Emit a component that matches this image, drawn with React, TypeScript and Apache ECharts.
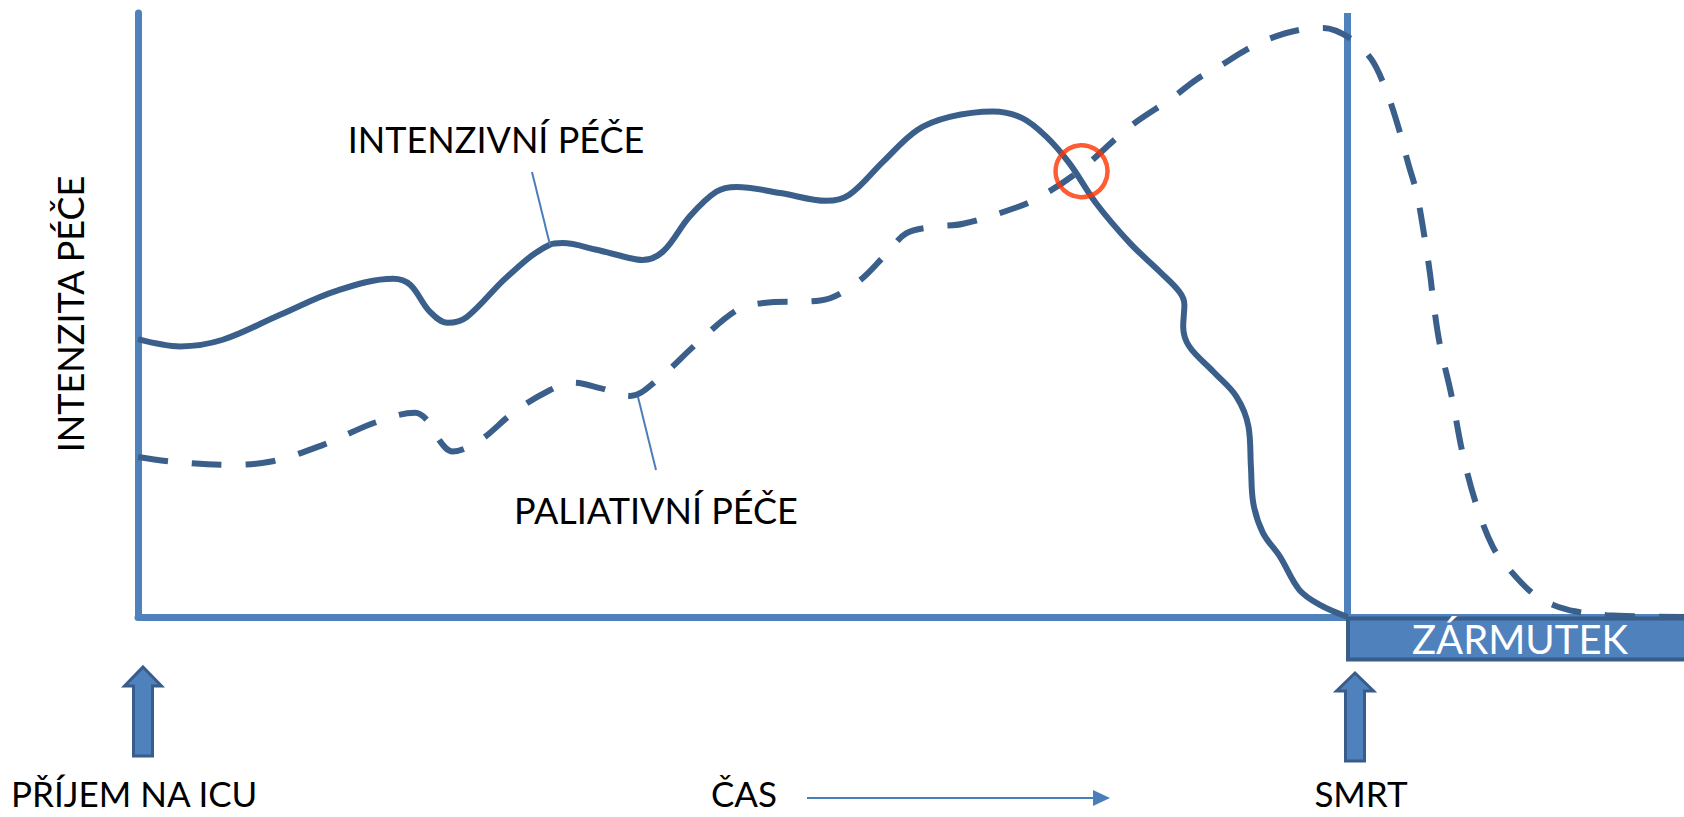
import React, { useEffect, useRef } from "react";
import * as echarts from "echarts";

// Time axis: 0 = admission to ICU, 100 = death; intensity 0..100
const intensiveCare: [number, number][] = [
  [0, 46.0], [3.5, 44.8], [7.0, 45.9], [11.7, 50.0], [16.4, 54.0], [21.1, 56.0],
  [22.5, 55.0], [24.1, 50.6], [25.6, 48.7], [27.2, 49.7], [30.5, 56.3], [34.0, 61.6],
  [35.1, 61.9], [37.9, 60.8], [40.7, 59.4], [41.7, 59.1], [43.4, 60.5], [45.6, 66.3],
  [47.8, 70.4], [49.5, 71.2], [53.1, 70.2], [56.9, 68.9], [58.8, 69.9], [61.6, 75.4],
  [64.4, 80.6], [67.1, 82.8], [70.7, 83.7], [73.1, 82.6], [75.1, 79.5], [77.0, 75.1],
  [79.2, 68.5], [82.0, 61.9], [84.5, 57.1], [86.1, 53.8], [86.5, 51.7], [86.4, 48.1],
  [86.9, 44.8], [88.9, 40.6], [90.8, 36.5], [91.8, 31.5], [92.0, 24.9], [92.2, 18.8],
  [93.0, 13.9], [94.4, 10.0], [96.0, 4.5], [97.7, 2.0], [100, 0],
];

const palliativeCare: [number, number][] = [
  [0, 26.5], [2.9, 25.7], [7.3, 25.2], [10.9, 25.7], [15.3, 28.5], [19.6, 32.2],
  [22.9, 33.8], [23.9, 32.6], [24.6, 30.1], [26.0, 27.4], [28.3, 29.3], [31.0, 33.8],
  [33.8, 37.3], [36.0, 38.8], [38.2, 37.9], [40.7, 36.6], [42.9, 39.2], [46.2, 45.3],
  [49.5, 50.8], [51.7, 52.0], [56.4, 52.4], [59.4, 55.3], [61.9, 60.2], [63.5, 63.5],
  [65.7, 64.6], [68.2, 65.1], [72.6, 67.8], [74.6, 69.6], [77.9, 74.0], [82.0, 81.2],
  [85.6, 86.1], [87.5, 89.0], [89.5, 91.3], [91.6, 93.9], [93.6, 95.8], [96.0, 97.2],
  [98.0, 97.5], [100.2, 95.8], [101.9, 92.5], [103.0, 88.1], [104.1, 81.7], [105.0, 75.1],
  [105.7, 70.2], [106.3, 63.5], [106.8, 56.9], [107.1, 51.9], [107.6, 45.3], [108.6, 36.5],
  [109.5, 27.1], [110.6, 18.8], [112.0, 11.6], [113.4, 7.8], [115.3, 3.9], [117.0, 2.0],
  [118.9, 0.9], [121.4, 0.3], [127.8, 0],
];

const crossing: [number, number][] = [[78.0, 73.8]];
const deathTime = 100;

const labels = {
  yTitle: "INTENZITA PÉČE",
  intensive: "INTENZIVNÍ PÉČE",
  palliative: "PALIATIVNÍ PÉČE",
  admission: "PŘÍJEM NA ICU",
  time: "ČAS",
  death: "SMRT",
  grief: "ZÁRMUTEK",
};

const AXIS = "#4f81bd";
const CURVE = "#3a5f8b";
const FONT = "Lato";
const FS = 36;

function blockArrow(cx: number, tip: number, base: number, bottom: number) {
  const hw = 18.5;
  const sw = 9.5;
  return [
    [cx, tip], [cx + hw, base], [cx + sw, base], [cx + sw, bottom],
    [cx - sw, bottom], [cx - sw, base], [cx - hw, base],
  ];
}

export default function App() {
  const ref = useRef<HTMLDivElement>(null);
  useEffect(() => {
    if (!ref.current) return;
    const chart = echarts.init(ref.current, undefined, { renderer: "svg" });
    const text = (t: string, x: number, y: number, extra: any = {}) => ({
      type: "text",
      x, y, z: 10,
      ...extra,
      style: {
        text: t, fontFamily: FONT, fontSize: FS, fill: "#000",
        align: "center", verticalAlign: "middle", ...(extra.style || {}),
      },
    });
    const bottomStyle = { fontSize: 35, lineHeight: 30 };
    chart.setOption({
      animation: false,
      grid: { left: 138, right: 0, top: 13, bottom: 200 },
      xAxis: {
        type: "value", min: 0, max: 127.8,
        axisLine: { show: true, onZero: false, lineStyle: { color: AXIS, width: 7 } },
        axisTick: { show: false }, axisLabel: { show: false }, splitLine: { show: false },
      },
      yAxis: {
        type: "value", min: 0, max: 100,
        axisLine: { show: true, onZero: false, lineStyle: { color: AXIS, width: 7 } },
        axisTick: { show: false }, axisLabel: { show: false }, splitLine: { show: false },
      },
      series: [
        {
          name: labels.intensive, type: "line", data: intensiveCare, smooth: 0.35,
          showSymbol: false, clip: false, z: 5,
          lineStyle: { color: CURVE, width: 6 },
          markLine: {
            silent: true, symbol: "none", label: { show: false }, z: 1,
            lineStyle: { color: AXIS, width: 7, type: "solid" },
            data: [{ xAxis: deathTime }],
          },
        },
        {
          name: labels.palliative, type: "line", data: palliativeCare, smooth: 0.35,
          showSymbol: false, clip: false, z: 6,
          lineStyle: { color: CURVE, width: 6, type: [30, 24], cap: "butt" },
        },
        {
          type: "scatter", data: crossing, symbol: "circle", symbolSize: 52, z: 8,
          itemStyle: { color: "rgba(0,0,0,0)", borderColor: "#ff3300", borderWidth: 4.5 },
        },
      ],
      graphic: [
        {
          type: "rect", z: 4,
          shape: { x: 1348, y: 618.5, width: 345, height: 41 },
          style: { fill: AXIS, stroke: "#385d8a", lineWidth: 4 },
        },
        text(labels.grief, 1520, 639, { style: { fill: "#fff", fontSize: 40, lineHeight: 36 } }),
        text(labels.yTitle, 70, 314, { rotation: Math.PI / 2 }),
        text(labels.intensive, 496, 139),
        text(labels.palliative, 656, 510),
        text(labels.admission, 11, 793, { style: { align: "left", ...bottomStyle } }),
        text(labels.time, 744, 793, { style: bottomStyle }),
        text(labels.death, 1361, 793, { style: bottomStyle }),
        { type: "line", z: 10, shape: { x1: 532, y1: 172, x2: 550, y2: 245 }, style: { stroke: "#4a7ebb", lineWidth: 2 } },
        { type: "line", z: 10, shape: { x1: 638, y1: 397, x2: 656, y2: 470 }, style: { stroke: "#4a7ebb", lineWidth: 2 } },
        { type: "line", z: 10, shape: { x1: 807, y1: 798, x2: 1096, y2: 798 }, style: { stroke: "#4a7ebb", lineWidth: 2 } },
        { type: "polygon", z: 10, shape: { points: [[1110, 798], [1093, 790], [1093, 806]] }, style: { fill: "#4a7ebb" } },
        { type: "polygon", z: 10, shape: { points: blockArrow(143, 667, 686, 756) }, style: { fill: AXIS, stroke: "#385d8a", lineWidth: 3 } },
        { type: "polygon", z: 10, shape: { points: blockArrow(1355, 673, 691, 761) }, style: { fill: AXIS, stroke: "#385d8a", lineWidth: 3 } },
      ],
    });
    return () => chart.dispose();
  }, []);
  return (
    <div
      ref={ref}
      style={{ position: "absolute", left: 0, top: 0, width: 1684, height: 817, background: "#fff" }}
    />
  );
}
